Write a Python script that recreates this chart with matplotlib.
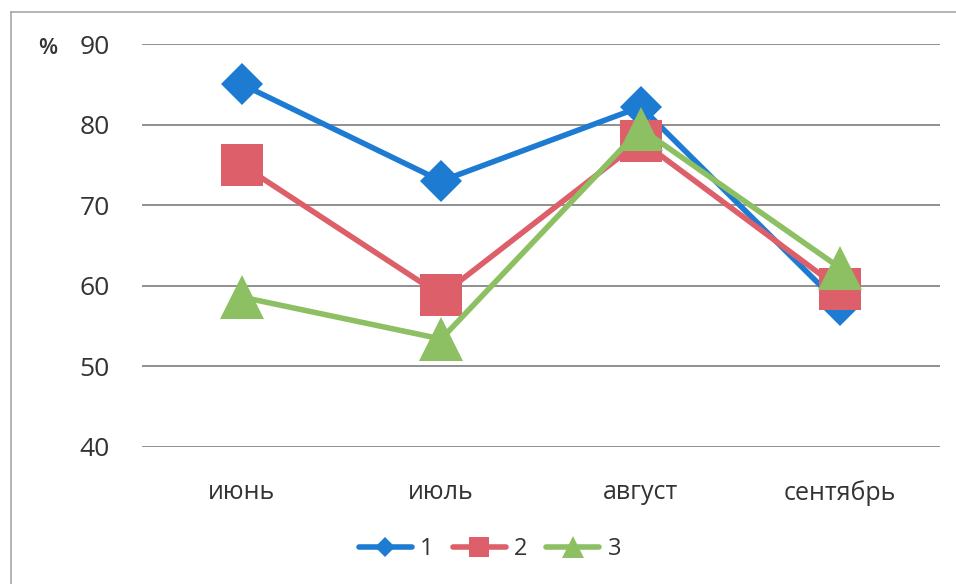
import matplotlib
matplotlib.use("Agg")
import matplotlib.pyplot as plt
from matplotlib.lines import Line2D

plt.rcParams['font.family'] = ['Open Sans', 'DejaVu Sans']

months = ["июнь", "июль", "август", "сентябрь"]
series_names = ["1", "2", "3"]
series_1 = [85.0, 73.0, 82.2, 57.6]
series_2 = [75.0, 58.8, 78.0, 59.6]
series_3 = [58.6, 53.4, 79.5, 62.2]
y_ticks = [40, 50, 60, 70, 80, 90]

colors = ["#1E7BD2", "#DC5F6A", "#8DC063"]
markers = ["D", "s", "^"]
msizes = [21, 30, 31]

fig = plt.figure(figsize=(9.56, 5.84), dpi=100)
ax = fig.add_axes([142 / 956, 137 / 584, 798 / 956, 403 / 584])

x = list(range(len(months)))
for vals, name, c, m, ms in zip([series_1, series_2, series_3], series_names,
                                colors, markers, msizes):
    ax.plot(x, vals, color=c, lw=4.0, marker=m, markersize=ms,
            markeredgewidth=0, label=name, solid_capstyle="round", zorder=3)

ax.set_xlim(-0.5, len(months) - 0.5)
ax.set_ylim(40, 90)
ax.set_yticks(y_ticks)
ax.set_xticks(x)
ax.set_xticklabels(months)
ax.grid(axis="y", color="#8f8f8f", lw=1.4, zorder=0)
ax.set_axisbelow(True)
for s in ax.spines.values():
    s.set_visible(False)
ax.tick_params(axis="y", length=0, pad=23, labelsize=19, labelcolor="#333333")
ax.tick_params(axis="x", length=0, pad=24, labelsize=18, labelcolor="#333333")

fig.text(48 / 956, 1 - 49 / 584, "%", fontsize=16, color="#333333",
         fontweight="semibold", ha="center", va="center")

leg = fig.legend(loc="center", bbox_to_anchor=(490 / 956, 1 - 549 / 584),
                 ncol=3, frameon=False, fontsize=17, handlelength=2.25,
                 handletextpad=0.35, columnspacing=0.8, markerscale=0.5)
for t in leg.get_texts():
    t.set_color("#333333")

# outer frame of the chart area
fig.add_artist(Line2D([11 / 956, 1], [1 - 12 / 584, 1 - 12 / 584],
                      transform=fig.transFigure, color="#a8a8a8", lw=1.2))
fig.add_artist(Line2D([11 / 956, 11 / 956], [0, 1 - 12 / 584],
                      transform=fig.transFigure, color="#a8a8a8", lw=1.2))

fig.savefig("out.png", dpi=100, facecolor="white")
